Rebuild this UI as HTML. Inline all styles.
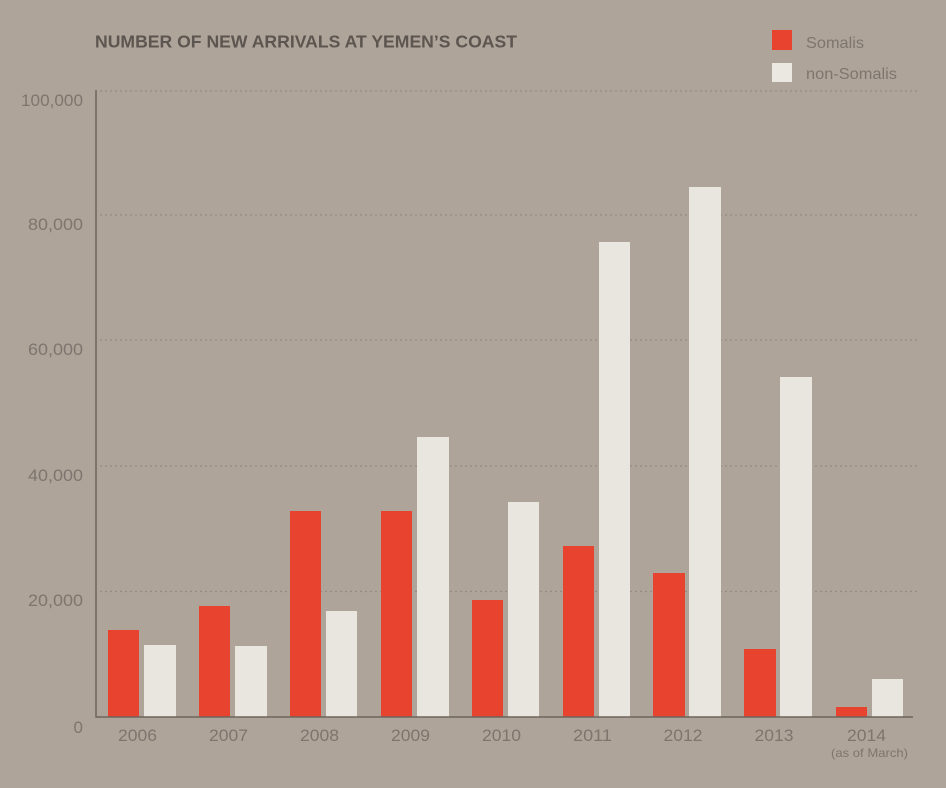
<!DOCTYPE html>
<html><head><meta charset="utf-8"><style>
html,body{margin:0;padding:0;background:#aea49a;}
svg{display:block;}
text{font-family:"Liberation Sans",sans-serif;}
</style></head><body>
<svg width="946" height="788" viewBox="0 0 946 788" xmlns="http://www.w3.org/2000/svg">
<rect width="946" height="788" fill="#aea49a"/>
<text x="95" y="47.5" font-size="17.5" font-weight="bold" fill="#5d554f" textLength="422" lengthAdjust="spacingAndGlyphs">NUMBER OF NEW ARRIVALS AT YEMEN’S COAST</text>
<rect x="772" y="30" width="20" height="20" fill="#e8432f"/>
<rect x="772" y="63" width="20" height="19" fill="#ebe7e1"/>
<text x="806" y="48" font-size="16" fill="#7e756e" textLength="58" lengthAdjust="spacingAndGlyphs">Somalis</text>
<text x="806" y="79" font-size="16" fill="#7e756e" textLength="91" lengthAdjust="spacingAndGlyphs">non-Somalis</text>
<g stroke="#958b83" stroke-width="1.3" stroke-dasharray="2 3">
<line x1="100" y1="91" x2="917" y2="91"/>
<line x1="100" y1="215" x2="917" y2="215"/>
<line x1="100" y1="340" x2="917" y2="340"/>
<line x1="100" y1="466" x2="917" y2="466"/>
<line x1="100" y1="591.5" x2="917" y2="591.5"/>
</g>
<g font-size="17" fill="#7e756e" text-anchor="end">
<text x="83" y="106" textLength="62" lengthAdjust="spacingAndGlyphs">100,000</text>
<text x="83" y="230" textLength="55" lengthAdjust="spacingAndGlyphs">80,000</text>
<text x="83" y="355" textLength="55" lengthAdjust="spacingAndGlyphs">60,000</text>
<text x="83" y="481" textLength="55" lengthAdjust="spacingAndGlyphs">40,000</text>
<text x="83" y="606" textLength="55" lengthAdjust="spacingAndGlyphs">20,000</text>
<text x="83" y="733">0</text>
</g>
<g fill="#e8432f">
<rect x="108" y="630" width="31" height="87"/>
<rect x="199" y="606" width="31" height="111"/>
<rect x="290" y="511" width="31" height="206"/>
<rect x="381" y="511" width="31" height="206"/>
<rect x="472" y="600" width="31" height="117"/>
<rect x="563" y="546" width="31" height="171"/>
<rect x="653" y="573" width="32" height="144"/>
<rect x="744" y="649" width="32" height="68"/>
<rect x="836" y="707" width="31" height="10"/>
</g>
<g fill="#e9e5df">
<rect x="144" y="645" width="32" height="72"/>
<rect x="235" y="646" width="32" height="71"/>
<rect x="326" y="611" width="31" height="106"/>
<rect x="417" y="437" width="32" height="280"/>
<rect x="508" y="502" width="31" height="215"/>
<rect x="599" y="242" width="31" height="475"/>
<rect x="689" y="187" width="32" height="530"/>
<rect x="780" y="377" width="32" height="340"/>
<rect x="872" y="679" width="31" height="38"/>
</g>
<line x1="96" y1="90" x2="96" y2="717.5" stroke="#6d645d" stroke-width="1.5"/>
<line x1="95.5" y1="717" x2="913" y2="717" stroke="#6d645d" stroke-width="1.5"/>
<g font-size="17" fill="#7e756e" text-anchor="middle">
<text x="137.5" y="741" textLength="39" lengthAdjust="spacingAndGlyphs">2006</text>
<text x="228.5" y="741" textLength="39" lengthAdjust="spacingAndGlyphs">2007</text>
<text x="319.5" y="741" textLength="39" lengthAdjust="spacingAndGlyphs">2008</text>
<text x="410.5" y="741" textLength="39" lengthAdjust="spacingAndGlyphs">2009</text>
<text x="501.5" y="741" textLength="39" lengthAdjust="spacingAndGlyphs">2010</text>
<text x="592.5" y="741" textLength="39" lengthAdjust="spacingAndGlyphs">2011</text>
<text x="683" y="741" textLength="39" lengthAdjust="spacingAndGlyphs">2012</text>
<text x="774" y="741" textLength="39" lengthAdjust="spacingAndGlyphs">2013</text>
<text x="866.5" y="741" textLength="39" lengthAdjust="spacingAndGlyphs">2014</text>
<text x="869.5" y="757" font-size="12" textLength="77" lengthAdjust="spacingAndGlyphs">(as of March)</text>
</g>
</svg>
</body></html>
